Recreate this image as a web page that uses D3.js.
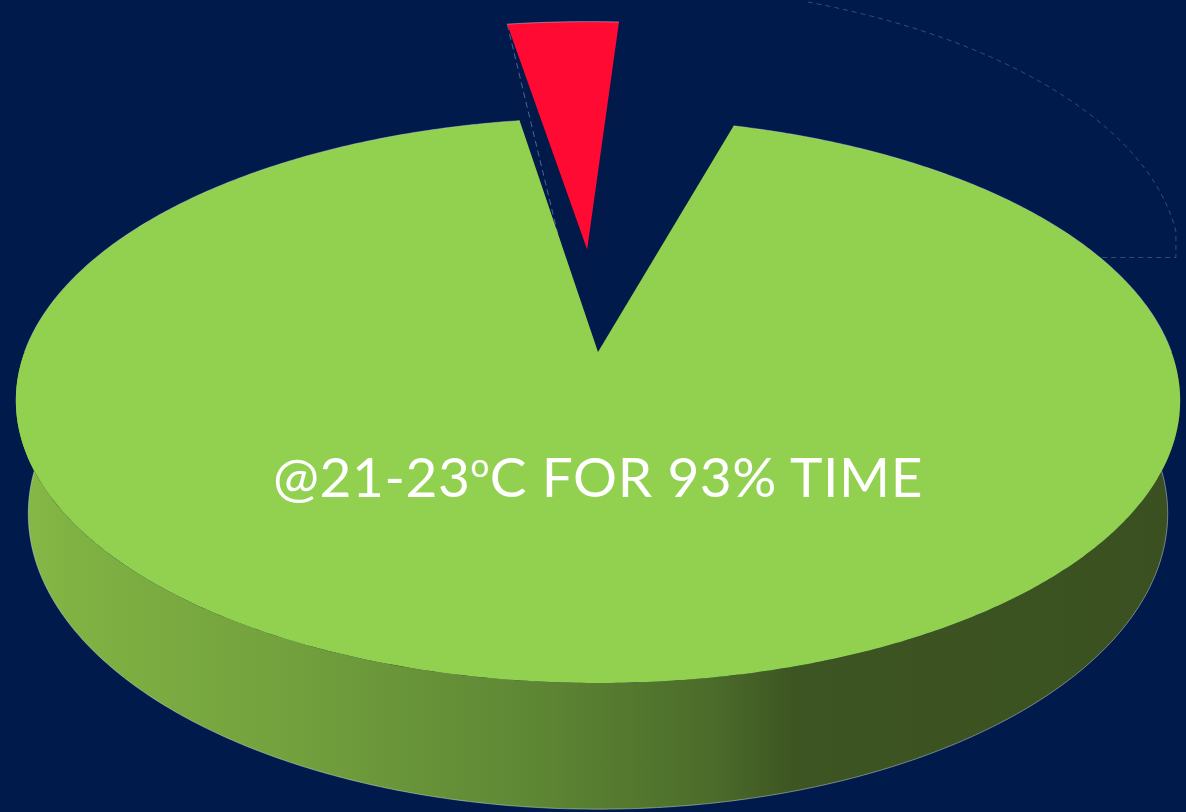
<!DOCTYPE html>
<html>
<head>
<meta charset="utf-8">
<script src="https://cdn.jsdelivr.net/npm/d3@7"></script>
<style>
  html, body { margin: 0; padding: 0; background: #001a4b; overflow: hidden; }
  svg { display: block; }
</style>
</head>
<body>
<svg id="chart" width="1186" height="812"></svg>
<script>
// ---- data ----
const categories = ["Out of range", "Other", "21-23°C"];
const values = [3.5, 3.5, 93];
const sliceColors = ["#ff0a33", "none", "#92d050"];
const explodedSlice = [true, false, false];
const labelRange = "21-23";

// ---- layout / style ----
const W = 1186, H = 812;
const bg = "#001a4b";
const sideFace = "#011a4a";
const view = { cx: 598, cy: 352, scale: 573.5, sinTilt: 0.478, dist: 5.116 };
const thickness = 0.2268;           // pie height, in radii
const explodeDist = 0.40;           // exploded slice offset, in radii
const explodeRadius = 1.12;         // exploded slice radius, in radii
const startDeg = -9.2;              // first slice starts left of 12 o'clock
const step = Math.PI / 360;

const cosTilt = Math.sqrt(1 - view.sinTilt * view.sinTilt);
const focal = view.scale * view.dist;

// perspective camera looking down at the pie: x right, y away, z up
function project(x, y, z) {
  const v = y * view.sinTilt + z * cosTilt;
  const w = y * cosTilt - z * view.sinTilt + view.dist;
  return [view.cx + focal * x / w, view.cy - focal * v / w];
}
// angle a is clockwise from 12 o'clock (the far side of the pie)
function rimPoint(a, r, off, z) {
  return project(off[0] + r * Math.sin(a), off[1] + r * Math.cos(a), z);
}
function rim(a0, a1, r, off, z) {
  const n = Math.max(2, Math.ceil(Math.abs(a1 - a0) / step));
  return d3.range(n + 1).map(i => rimPoint(a0 + (a1 - a0) * i / n, r, off, z));
}

const data = categories.map((c, i) => ({
  category: c, value: values[i], color: sliceColors[i], exploded: explodedSlice[i]
}));

const start = startDeg * Math.PI / 180;
const pie = d3.pie().sort(null).value(d => d.value)
  .startAngle(start).endAngle(start + 2 * Math.PI);
const arcs = pie(data);

const svg = d3.select("#chart");
svg.append("rect").attr("width", W).attr("height", H).attr("fill", bg);

const defs = svg.append("defs");
const grad = defs.append("linearGradient").attr("id", "wallGrad")
  .attr("gradientUnits", "userSpaceOnUse")
  .attr("x1", 0).attr("y1", 0).attr("x2", W).attr("y2", 0);
[[0.00, "#88bc48"], [0.06, "#80b243"], [0.25, "#72a03d"], [0.45, "#5e8734"],
 [0.60, "#4b6c2a"], [0.67, "#3d5522"], [1.00, "#3a5020"]]
  .forEach(([o, c]) => grad.append("stop").attr("offset", o).attr("stop-color", c));

const line = d3.line();
const halo = "rgba(215,225,240,0.45)";

// faint outline behind the pie, upper right
const gA0 = 25 * Math.PI / 180, gA1 = 93 * Math.PI / 180, gJoin = 68.5 * Math.PI / 180;
const ghostLift = 135;
const ghostArc = rim(gA0, gA1, 1, [0, 0], 0).map(p => [p[0], p[1] - ghostLift]);
const joinPt = rimPoint(gJoin, 1, [0, 0], 0);
const lastG = ghostArc[ghostArc.length - 1];
svg.append("path")
  .attr("d", line([...ghostArc, [lastG[0], joinPt[1]], joinPt]))
  .attr("fill", "none")
  .attr("stroke", "rgba(150,170,210,0.35)")
  .attr("stroke-width", 1)
  .attr("stroke-dasharray", "5 4");

const g = svg.append("g");

// exploded slices first (they sit behind the main slice)
arcs.filter(d => d.data.exploded).forEach(d => {
  const mid = (d.startAngle + d.endAngle) / 2;
  const off = [explodeDist * Math.sin(mid), explodeDist * Math.cos(mid)];
  const r = explodeRadius;
  const apexTop = project(off[0], off[1], 0);
  const apexBot = project(off[0], off[1], -thickness);
  [d.startAngle, d.endAngle].forEach(a => {
    g.append("path")
      .attr("d", line([apexTop, rimPoint(a, r, off, 0), rimPoint(a, r, off, -thickness), apexBot]) + "Z")
      .attr("fill", sideFace);
  });
  // seam across the left cut face
  g.append("path")
    .attr("d", line([rimPoint(d.startAngle, r, off, 0), apexBot]))
    .attr("stroke", "rgba(170,190,225,0.45)")
    .attr("stroke-width", 1)
    .attr("stroke-dasharray", "6 4");
  g.append("path")
    .attr("d", line([apexTop, ...rim(d.startAngle, d.endAngle, r, off, 0)]) + "Z")
    .attr("fill", d.data.color);
  g.append("path")
    .attr("d", line(rim(d.startAngle, d.endAngle, r, off, 0)))
    .attr("fill", "none").attr("stroke", halo).attr("stroke-width", 1);
});

// main slices: outer wall on the near half, then top face
arcs.filter(d => !d.data.exploded && d.data.color !== "none").forEach(d => {
  const w0 = Math.max(d.startAngle, Math.PI / 2);
  const w1 = Math.min(d.endAngle, 3 * Math.PI / 2);
  if (w1 > w0) {
    const top = rim(w0, w1, 1, [0, 0], 0);
    const bot = rim(w0, w1, 1, [0, 0], -thickness);
    g.append("path")
      .attr("d", line([...top, ...bot.reverse()]) + "Z")
      .attr("fill", "url(#wallGrad)");
    g.append("path")
      .attr("d", line(rim(w0, w1, 1, [0, 0], -thickness)))
      .attr("fill", "none").attr("stroke", halo).attr("stroke-width", 1);
  }
  const center = project(0, 0, 0);
  g.append("path")
    .attr("d", line([center, ...rim(d.startAngle, d.endAngle, 1, [0, 0], 0)]) + "Z")
    .attr("fill", d.data.color);
  // light edge along the far rim
  [[d.startAngle, Math.PI / 2], [3 * Math.PI / 2, d.endAngle]].forEach(([a0, a1]) => {
    if (a1 > a0) g.append("path")
      .attr("d", line(rim(a0, a1, 1, [0, 0], 0)))
      .attr("fill", "none").attr("stroke", halo).attr("stroke-width", 0.8);
  });
});

// label on the main slice
const main = data[2];
const label = svg.append("text")
  .attr("x", view.cx).attr("y", 497)
  .attr("text-anchor", "middle")
  .attr("fill", "#ffffff")
  .attr("font-family", "Lato, 'Open Sans', sans-serif")
  .attr("font-size", 55);
label.append("tspan").text("@" + labelRange);
label.append("tspan").attr("font-size", 33).attr("dy", -20).text("o");
label.append("tspan").attr("dy", 20).text("C FOR " + main.value + "% TIME");

const targetWidth = 650;
const len = label.node().getComputedTextLength();
const chars = label.text().length;
label.attr("letter-spacing", ((targetWidth - len) / chars).toFixed(2));
</script>
</body>
</html>
